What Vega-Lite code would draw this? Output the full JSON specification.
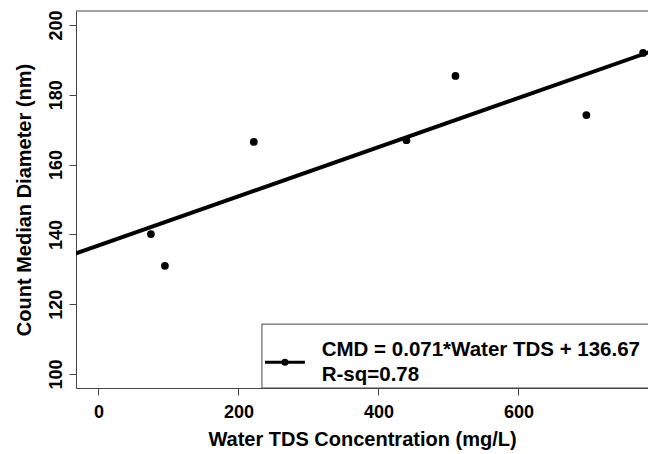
{
  "$schema": "https://vega.github.io/schema/vega-lite/v6.json",
  "width": 572,
  "height": 377,
  "autosize": {"type": "none"},
  "padding": {"left": 76, "top": 11, "right": 0, "bottom": 66},
  "background": "white",
  "config": {
    "view": {"stroke": null},
    "font": "Liberation Sans",
    "axis": {
      "labelFont": "Liberation Sans",
      "titleFont": "Liberation Sans",
      "labelFontWeight": "bold",
      "titleFontWeight": "bold",
      "labelColor": "black",
      "titleColor": "black",
      "labelFontSize": 18,
      "titleFontSize": 20,
      "grid": false,
      "domainColor": "#444444",
      "tickColor": "#444444",
      "tickSize": 7,
      "domainWidth": 1,
      "tickWidth": 1
    }
  },
  "datasets": {
    "pts": [
      {"tds": 75, "cmd": 140.1},
      {"tds": 95, "cmd": 131.0},
      {"tds": 222, "cmd": 166.5},
      {"tds": 440, "cmd": 167.0},
      {"tds": 510, "cmd": 185.4},
      {"tds": 697, "cmd": 174.2},
      {"tds": 778, "cmd": 192.0}
    ],
    "one": [{}]
  },
  "layer": [
    {
      "data": {"name": "pts"},
      "transform": [{"regression": "cmd", "on": "tds", "extent": [-60, 950]}],
      "mark": {"type": "line", "color": "black", "strokeWidth": 4, "clip": true},
      "encoding": {
        "x": {
          "field": "tds", "type": "quantitative",
          "scale": {"domain": [-32, 785], "nice": false, "zero": false},
          "axis": {"values": [0, 200, 400, 600], "title": "Water TDS Concentration (mg/L)", "labelPadding": 8, "titlePadding": 8, "labelFlush": false}
        },
        "y": {
          "field": "cmd", "type": "quantitative",
          "scale": {"domain": [96, 204], "nice": false, "zero": false},
          "axis": {"values": [100, 120, 140, 160, 180, 200], "title": "Count Median Diameter (nm)", "labelAngle": 270, "labelAlign": "center", "labelBaseline": "alphabetic", "labelPadding": 8, "titlePadding": 13, "labelFlush": false}
        }
      }
    },
    {
      "data": {"name": "pts"},
      "mark": {"type": "circle", "color": "black", "size": 60, "opacity": 1, "clip": true},
      "encoding": {
        "x": {"field": "tds", "type": "quantitative"},
        "y": {"field": "cmd", "type": "quantitative"}
      }
    },
    {
      "data": {"name": "one"},
      "mark": {"type": "rule", "color": "#444444", "strokeWidth": 1},
      "encoding": {"y": {"datum": 204}}
    },
    {
      "data": {"name": "one"},
      "mark": {"type": "rect", "fill": "white", "stroke": "#444444", "strokeWidth": 1, "clip": true},
      "encoding": {
        "x": {"datum": 233.6}, "x2": {"datum": 1000},
        "y": {"datum": 114.3}, "y2": {"datum": 96}
      }
    },
    {
      "data": {"name": "one"},
      "mark": {"type": "rule", "color": "black", "strokeWidth": 3},
      "encoding": {
        "x": {"datum": 238}, "x2": {"datum": 295},
        "y": {"datum": 103.4}
      }
    },
    {
      "data": {"name": "one"},
      "mark": {"type": "circle", "color": "black", "size": 50, "opacity": 1},
      "encoding": {
        "x": {"datum": 266.5},
        "y": {"datum": 103.4}
      }
    },
    {
      "data": {"name": "one"},
      "mark": {"type": "text", "text": "CMD = 0.071*Water TDS + 136.67", "align": "left", "baseline": "middle", "font": "Liberation Sans", "fontSize": 20.5, "fontWeight": "bold", "color": "black"},
      "encoding": {"x": {"datum": 319}, "y": {"datum": 106.9}}
    },
    {
      "data": {"name": "one"},
      "mark": {"type": "text", "text": "R-sq=0.78", "align": "left", "baseline": "middle", "font": "Liberation Sans", "fontSize": 20.5, "fontWeight": "bold", "color": "black"},
      "encoding": {"x": {"datum": 319}, "y": {"datum": 99.7}}
    }
  ]
}
